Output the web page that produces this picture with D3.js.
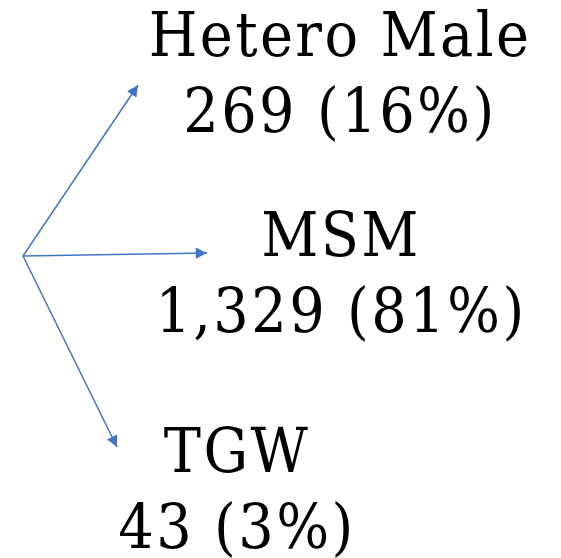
<!DOCTYPE html>
<html>
<head>
<meta charset="utf-8">
<script src="https://cdn.jsdelivr.net/npm/d3@7"></script>
<style>
  body { margin: 0; background: #fff; }
  text { font-family: "DejaVu Serif Condensed", "DejaVu Serif", serif; font-stretch: condensed; fill: #000; }
</style>
</head>
<body>
<svg id="chart" width="561" height="558"></svg>
<script>
const groups = ["Hetero Male", "MSM", "TGW"];
const counts = [269, 1329, 43];
const shares = [16, 81, 3];

const svg = d3.select("#chart");

// layout of the diagram (pixel space)
const origin = [23, 256];
const tips = [[138, 85], [207, 253], [117, 447]];
const labelX = [340, 341, 237];
const labelY = [56, 256, 472];
const lineGap = 76;

const fmt = d3.format(",");

svg.append("defs").append("marker")
    .attr("id", "arrow")
    .attr("viewBox", "0 0 10 10")
    .attr("refX", 10)
    .attr("refY", 5)
    .attr("markerWidth", 8)
    .attr("markerHeight", 7.5)
    .attr("markerUnits", "strokeWidth")
    .attr("orient", "auto")
    .append("path")
    .attr("d", "M0,0 L10,5 L0,10 Z")
    .attr("fill", "#4472C4");

const data = groups.map((g, i) => ({ group: g, count: counts[i], share: shares[i], i }));

svg.selectAll(".arrow")
    .data(data)
    .enter()
    .append("line")
    .attr("class", "arrow")
    .attr("x1", origin[0])
    .attr("y1", origin[1])
    .attr("x2", d => tips[d.i][0])
    .attr("y2", d => tips[d.i][1])
    .attr("stroke", "#4472C4")
    .attr("stroke-width", 1.5)
    .attr("marker-end", "url(#arrow)");

const labels = svg.selectAll(".label")
    .data(data)
    .enter()
    .append("text")
    .attr("class", "label")
    .attr("text-anchor", "middle")
    .style("font-size", "62px")
    .style("letter-spacing", "2.4px");

labels.append("tspan")
    .attr("x", d => labelX[d.i])
    .attr("y", d => labelY[d.i])
    .text(d => d.group);

labels.append("tspan")
    .attr("x", d => labelX[d.i])
    .attr("y", d => labelY[d.i] + lineGap)
    .text(d => `${fmt(d.count)} (${d.share}%)`);
</script>
</body>
</html>
